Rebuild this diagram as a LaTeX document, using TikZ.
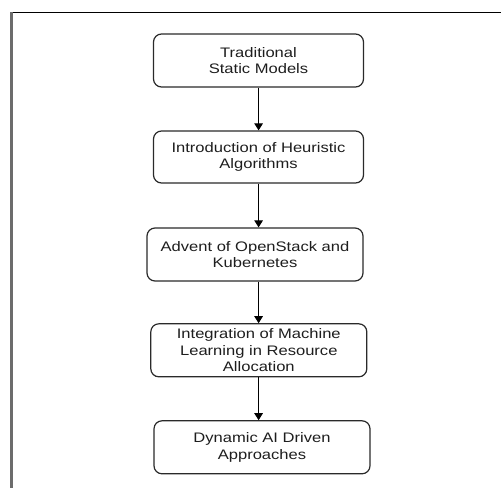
\documentclass[tikz,border=0pt]{standalone}
\usepackage{fontspec}
\setmainfont[FakeStretch=1.2]{Liberation Sans}
\usetikzlibrary{arrows.meta}
\definecolor{boxline}{HTML}{2a2a2a}
\definecolor{txt}{HTML}{1e1e1e}
\tikzset{
  stage/.style={draw=boxline, line width=1.2pt, rounded corners=8pt, fill=white,
    align=center, inner sep=0pt, text=txt,
    font=\fontsize{13.8pt}{16.5pt}\selectfont},
  flow/.style={draw=black, line width=1.1pt, -{Triangle[width=8.5pt,length=7pt]}}
}
\begin{document}
\begin{tikzpicture}[x=1pt,y=-1pt]
\useasboundingbox (0,0) rectangle (501,488);
% frame
\draw[black, line width=1.4pt] (11,12.5) -- (501,12.5);
\draw[gray!85!black, line width=2.2pt] (11.5,12) -- (11.5,488);
\coordinate (ax) at (258.6,0);
\node[stage, minimum width=210pt, minimum height=53pt] (b1) at (258.5,60.5) {Traditional\\Static Models};
\node[stage, minimum width=210pt, minimum height=52pt] (b2) at (258.5,157) {Introduction of Heuristic\\Algorithms};
\node[stage, minimum width=216pt, minimum height=53pt] (b3) at (255,254.5) {Advent of OpenStack and\\Kubernetes};
\node[stage, minimum width=216pt, minimum height=53pt] (b4) at (258.8,350.3) {Integration of Machine\\Learning in Resource\\Allocation};
\node[stage, minimum width=216pt, minimum height=53pt] (b5) at (262,447.3) {Dynamic AI Driven\\Approaches};
\draw[flow] (b1.south -| ax) -- (b2.north -| ax);
\draw[flow] (b2.south -| ax) -- (b3.north -| ax);
\draw[flow] (b3.south -| ax) -- (b4.north -| ax);
\draw[flow] (b4.south -| ax) -- (b5.north -| ax);
\end{tikzpicture}
\end{document}
